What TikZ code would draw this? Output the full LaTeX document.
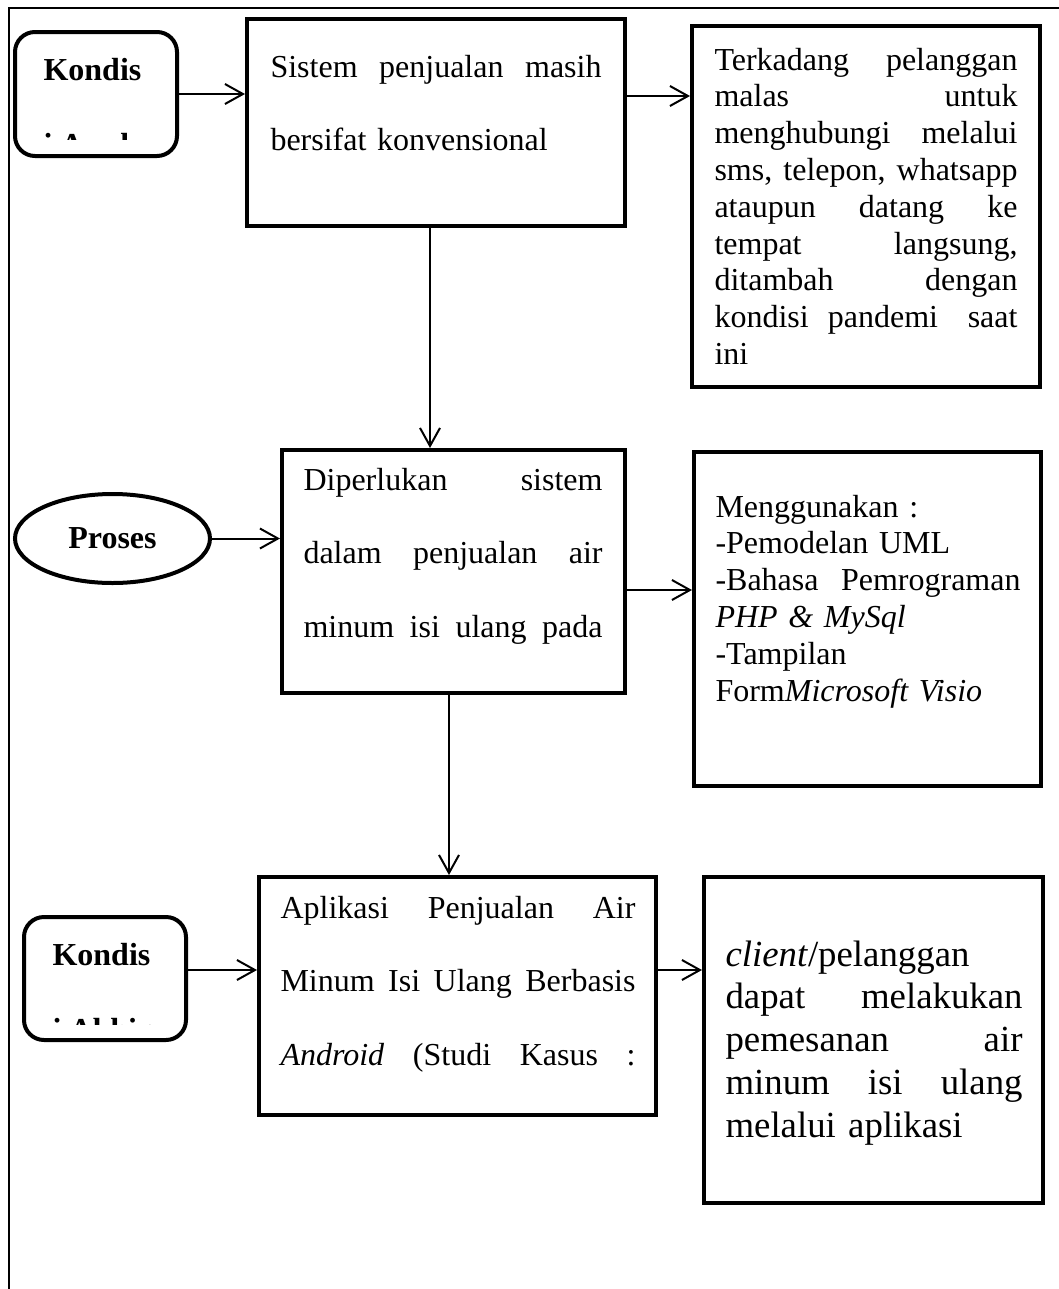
\documentclass[tikz,border=0pt]{standalone}
\usepackage{fontspec}
\setmainfont{Liberation Serif}
\usetikzlibrary{arrows.meta,shapes.geometric}
% one drawing unit (px) in points
\newdimen\pxu \pxu=0.375pt
% line-spacing presets
\newcommand\dblsp{\fontsize{12}{27.6}\selectfont}
\newcommand\sglsp{\fontsize{12}{13.8}\selectfont}
\newcommand\bigsp{\fontsize{13.8}{16.1}\selectfont}
% a fully justified line of the given width (in px); words are split by \wsp
\newcommand\wsp{\hfill\ }
\newcommand\jl[2]{\leavevmode\hbox to #1\pxu{#2}}
\begin{document}
\begin{tikzpicture}[x=0.375pt,y=-0.375pt,
  box/.style={draw, line width=1.5pt, inner sep=0pt},
  rbox/.style={box, rounded corners=7.5pt},
  conn/.style={line width=0.75pt, -{Straight Barb[length=6.75pt,width=7.5pt]}},
  frameline/.style={line width=0.75pt},
  txt/.style={inner sep=0pt, anchor=base west, align=left}]
\useasboundingbox (0,0) rectangle (1059,1289);
\fill[white] (0,0) rectangle (1059,1289);

% outer frame (left and top edges)
\coordinate (f1) at (9,1289);
\coordinate (f2) at (9,8);
\coordinate (f3) at (1059,8);
\draw[frameline] (f1) -- (f2) -- (f3);

% shapes
\node[rbox, minimum width=162*\pxu, minimum height=124*\pxu] (k1) at (96,94) {};
\node[box, minimum width=378*\pxu, minimum height=207*\pxu] (b1) at (436,122.5) {};
\node[box, minimum width=348*\pxu, minimum height=361*\pxu] (b2) at (866,206.5) {};
\node[box, ellipse, minimum width=195*\pxu, minimum height=89*\pxu, font=\fontsize{12}{14}\bfseries] (pr) at (112.5,538.5) {Proses};
\node[box, minimum width=343*\pxu, minimum height=243*\pxu] (b3) at (453.5,571.5) {};
\node[box, minimum width=347*\pxu, minimum height=334*\pxu] (b4) at (867.5,619) {};
\node[rbox, minimum width=162*\pxu, minimum height=123*\pxu] (k2) at (105,978.5) {};
\node[box, minimum width=397*\pxu, minimum height=238*\pxu] (b5) at (457.5,996) {};
\node[box, minimum width=339*\pxu, minimum height=326*\pxu] (b6) at (873.5,1040) {};

% labels of the two condition boxes (second line cut off by the box)
\node[txt, font=\fontsize{12}{14}\bfseries] (k1t) at (43,80) {Kondis};
\begin{scope}
  \clip (20,100) rectangle (170,139);
  \node[txt, font=\fontsize{12}{14}\bfseries] (k1s) at (43,155) {i Awal};
\end{scope}
\node[txt, font=\fontsize{12}{14}\bfseries] (k2t) at (52,965) {Kondis};
\begin{scope}
  \clip (25,990) rectangle (180,1024);
  \node[txt, font=\fontsize{12}{14}\bfseries] (k2s) at (52,1040) {i Akhir};
\end{scope}

% box texts
\node[txt, text width=331*\pxu, font=\dblsp] (b1t) at (270,77)
  {\jl{331}{Sistem\wsp penjualan\wsp masih}\\bersifat konvensional};
\node[txt, text width=303*\pxu, font=\sglsp] (b2t) at (714,70)
  {\jl{303}{Terkadang\wsp pelanggan}\\
   \jl{303}{malas\wsp untuk}\\
   \jl{303}{menghubungi\wsp melalui}\\
   \jl{303}{sms,\wsp telepon,\wsp whatsapp}\\
   \jl{303}{ataupun\wsp datang\wsp ke}\\
   \jl{303}{tempat\wsp langsung,}\\
   \jl{303}{ditambah\wsp dengan}\\
   \jl{303}{kondisi\wsp pandemi\ \wsp saat}\\
   ini};
\node[txt, text width=299*\pxu, font=\dblsp] (b3t) at (303,490)
  {\jl{299}{Diperlukan\wsp sistem}\\
   \jl{299}{dalam\wsp penjualan\wsp air}\\
   \jl{299}{minum\wsp isi\wsp ulang\wsp pada}};
\node[txt, text width=305*\pxu, font=\sglsp] (b4t) at (715,517)
  {Menggunakan :\\
   -Pemodelan UML\\
   \jl{305}{-Bahasa\wsp Pemrograman}\\
   \textit{PHP \& MySql}\\
   -Tampilan\\
   Form\textit{Microsoft Visio}};
\node[txt, text width=355*\pxu, font=\dblsp] (b5t) at (280,918)
  {\jl{355}{Aplikasi\wsp Penjualan\wsp Air}\\
   \jl{355}{Minum\wsp Isi\wsp Ulang\wsp Berbasis}\\
   \jl{355}{\textit{Android}\wsp (Studi\wsp Kasus\wsp :}};
\node[txt, text width=297*\pxu, font=\bigsp] (b6t) at (725,966)
  {\textit{client}/pelanggan\\
   \jl{297}{dapat\wsp melakukan}\\
   \jl{297}{pemesanan\wsp air}\\
   \jl{297}{minum\wsp isi\wsp ulang}\\
   melalui aplikasi};

% connectors
\coordinate (yb) at (0,96);
\coordinate (yc) at (0,590);
\coordinate (yd) at (0,970);
\coordinate (xa) at (430,0);
\coordinate (xb) at (449,0);
\draw[conn] (k1.east) -- (k1.east -| b1.west);
\draw[conn] (b1.east |- yb) -- (b2.west |- yb);
\draw[conn] (b1.south -| xa) -- (b3.north -| xa);
\draw[conn] (pr.east) -- (pr.east -| b3.west);
\draw[conn] (b3.east |- yc) -- (b4.west |- yc);
\draw[conn] (b3.south -| xb) -- (b5.north -| xb);
\draw[conn] (k2.east |- yd) -- (b5.west |- yd);
\draw[conn] (b5.east |- yd) -- (b6.west |- yd);
\end{tikzpicture}
\end{document}
